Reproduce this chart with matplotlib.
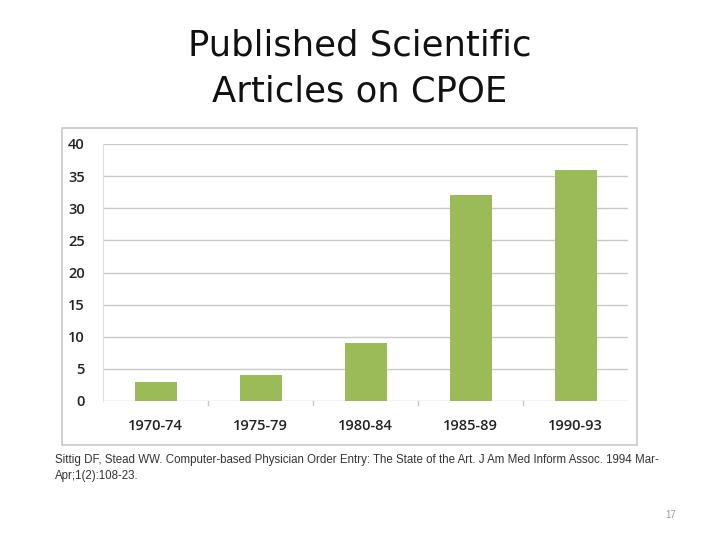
import matplotlib
matplotlib.use("Agg")
import matplotlib.pyplot as plt
from matplotlib.patches import Rectangle

categories = ["1970-74", "1975-79", "1980-84", "1985-89", "1990-93"]
values = [3, 4, 9, 32, 36]
yticks = [0, 5, 10, 15, 20, 25, 30, 35, 40]

fig = plt.figure(figsize=(7.2, 5.4), dpi=100)
fig.patch.set_facecolor("white")

# chart frame
fig.patches.append(Rectangle((62/720, 1-445/540), 575/720, 317/540,
                             transform=fig.transFigure, fill=False,
                             edgecolor="#c8c8c8", linewidth=1.2))

ax = fig.add_axes([103/720, 1-401/540, 525/720, 257/540])
x = list(range(len(categories)))
ax.bar(x, values, width=0.4, color="#9BBB59", zorder=3)
ax.set_xlim(-0.5, len(categories)-0.5)
ax.set_ylim(0, 40)
ax.set_yticks(yticks)
ax.set_yticklabels([str(t) for t in yticks], fontfamily="Open Sans",
                   fontweight="semibold", fontsize=10.5, color="#222222")
ax.set_xticks(x)
ax.set_xticklabels(categories, fontfamily="Open Sans", fontweight="semibold",
                   fontsize=10.5, color="#222222")
ax.tick_params(axis="x", length=0, pad=13)
ax.tick_params(axis="y", length=0, pad=13)
for b in [0.5, 1.5, 2.5, 3.5]:
    ax.plot([b, b], [-0.6, -0.0], color="#c8c8c8", lw=1, clip_on=False)
ax.grid(axis="y", color="#c8c8c8", linewidth=1, zorder=0)
for s in ["top", "right", "bottom"]:
    ax.spines[s].set_visible(False)
ax.spines["left"].set_color("#e0e0e0")

fig.text(0.5, 1-46/540, "Published Scientific", ha="center", va="center",
         fontsize=25.5, fontfamily="DejaVu Sans", color="#111111")
fig.text(0.5, 1-91/540, "Articles on CPOE", ha="center", va="center",
         fontsize=25.5, fontfamily="DejaVu Sans", color="#111111")

fig.text(55/720, 1-460/540,
         "Sittig DF, Stead WW. Computer-based Physician Order Entry: The State of the Art. J Am Med Inform Assoc. 1994 Mar-",
         ha="left", va="center", fontsize=8.3, fontfamily="Liberation Sans", color="#333333")
fig.text(55/720, 1-476/540, "Apr;1(2):108-23.",
         ha="left", va="center", fontsize=8.3, fontfamily="Liberation Sans", color="#333333")
fig.text(671/720, 1-515/540, "17", ha="center", va="center", fontsize=7,
         fontfamily="Liberation Sans", color="#999999")

fig.savefig("out.png", dpi=100)
